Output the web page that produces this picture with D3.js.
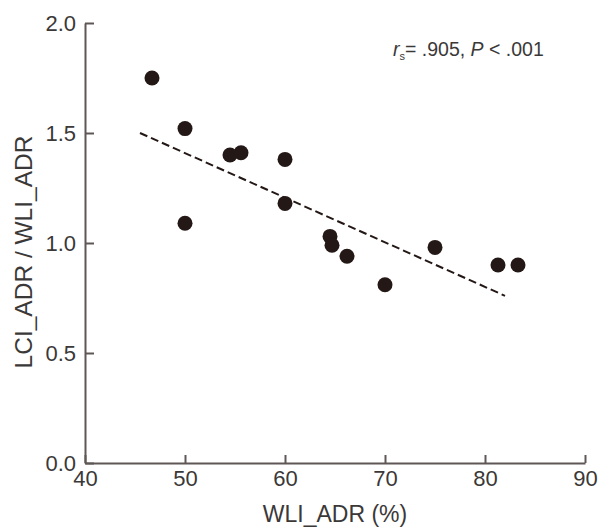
<!DOCTYPE html>
<html>
<head>
<meta charset="utf-8">
<script src="https://d3js.org/d3.v7.min.js"></script>
<style>
  body { margin: 0; background: #fff; }
  text { font-family: "Liberation Sans", Arial, sans-serif; }
</style>
</head>
<body>
<div id="my_chart"></div>
<script>
// data
var wliAdr = [46.7, 50.0, 54.5, 55.6, 60.0, 60.0, 50.0, 64.5, 64.7, 66.2, 70.0, 75.0, 81.3, 83.3];
var ratio = [1.75, 1.52, 1.40, 1.41, 1.38, 1.18, 1.09, 1.03, 0.99, 0.94, 0.81, 0.98, 0.90, 0.90];

// fitted line end points
var fitX = [45.5, 82.0];
var fitY = [1.50, 0.76];

var xTicks = [40, 50, 60, 70, 80, 90];
var yTicks = [0, 0.5, 1.0, 1.5, 2.0];

// set the dimensions and margins of the graph
var margin = { top: 23, right: 15, bottom: 66, left: 85 },
    width = 600 - margin.left - margin.right,
    height = 529 - margin.top - margin.bottom;

var svg = d3.select("#my_chart")
    .append("svg")
    .attr("width", 600)
    .attr("height", 529)
    .append("g")
    .attr("transform", "translate(" + margin.left + "," + margin.top + ")");

var axisColor = "#5e5755",
    textColor = "#3b3838",
    dotColor = "#231815";

// X axis
var x = d3.scaleLinear()
    .domain([40, 90])
    .range([0, width]);
var xAxis = svg.append("g")
    .attr("transform", "translate(0," + height + ")")
    .call(d3.axisBottom(x)
        .tickValues(xTicks)
        .tickSize(-8)
        .tickSizeOuter(0)
        .tickPadding(7)
        .tickFormat(d3.format("d")));

// Y axis
var y = d3.scaleLinear()
    .domain([0, 2])
    .range([height, 0]);
var yAxis = svg.append("g")
    .call(d3.axisLeft(y)
        .tickValues(yTicks)
        .tickSize(-9)
        .tickSizeOuter(0)
        .tickPadding(9)
        .tickFormat(d3.format(".1f")));

[xAxis, yAxis].forEach(function (a) {
    a.select(".domain").attr("stroke", axisColor).attr("stroke-width", 2);
    a.selectAll(".tick line").attr("stroke", axisColor).attr("stroke-width", 2);
    a.selectAll(".tick text")
        .attr("fill", textColor)
        .style("font-size", "22px")
        .style("font-family", "'Liberation Sans', Arial, sans-serif");
});

// axis titles
svg.append("text")
    .attr("x", width / 2)
    .attr("y", height + 59)
    .style("text-anchor", "middle")
    .style("font-size", "23px")
    .attr("fill", textColor)
    .text("WLI_ADR (%)");

svg.append("text")
    .attr("transform", "rotate(-90)")
    .attr("x", -height / 2 - 9)
    .attr("y", -margin.left + 32)
    .style("text-anchor", "middle")
    .style("font-size", "24.5px")
    .attr("fill", textColor)
    .text("LCI_ADR / WLI_ADR");

// dashed fit line
svg.append("line")
    .attr("x1", x(fitX[0]))
    .attr("y1", y(fitY[0]))
    .attr("x2", x(fitX[1]))
    .attr("y2", y(fitY[1]))
    .attr("stroke", dotColor)
    .attr("stroke-width", 2)
    .attr("stroke-dasharray", "8,4");

// points
svg.selectAll("circle")
    .data(wliAdr)
    .enter()
    .append("circle")
    .attr("cx", function (d) { return x(d); })
    .attr("cy", function (d, i) { return y(ratio[i]); })
    .attr("r", 7.5)
    .attr("fill", dotColor);

// correlation note
var note = svg.append("text")
    .attr("x", 308)
    .attr("y", 33)
    .style("font-size", "19.5px")
    .attr("fill", textColor);
note.append("tspan").style("font-style", "italic").text("r");
note.append("tspan").attr("dy", 4).style("font-size", "11px").text("s");
note.append("tspan").attr("dy", -4).text("= .905, ");
note.append("tspan").style("font-style", "italic").text("P");
note.append("tspan").text(" < .001");
</script>
</body>
</html>
